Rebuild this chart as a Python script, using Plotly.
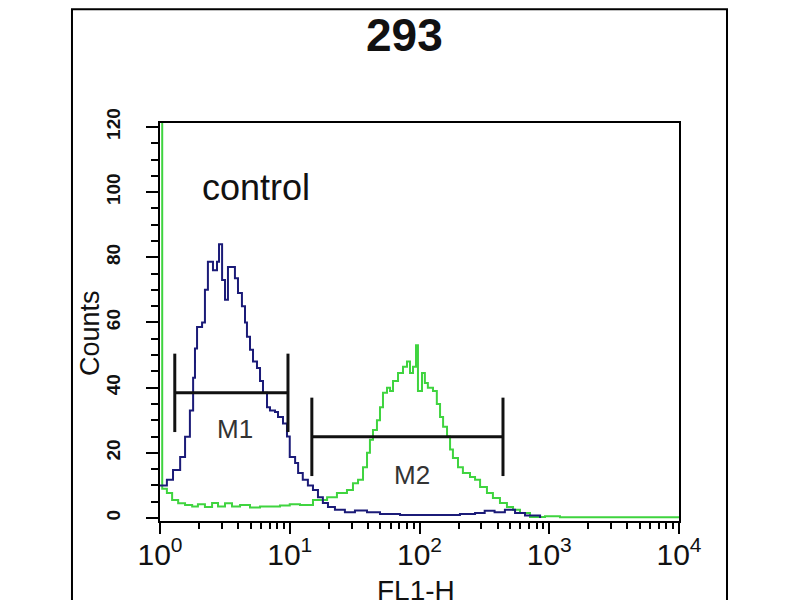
import math
import plotly.graph_objects as go

# FL1-H histogram values (intensity, counts)
control_fl1 = [1.00, 1.13, 1.26, 1.43, 1.56, 1.70, 1.80, 1.86, 1.93, 2.11, 2.22, 2.34, 2.56, 2.75, 2.85,
               3.01, 3.17, 3.34, 3.59, 3.78, 3.99, 4.28, 4.52, 4.68, 4.94, 5.21, 5.59, 5.90, 6.22, 6.68,
               7.04, 7.70, 8.12, 8.87, 9.52, 10.0, 11.0, 11.6, 12.6, 13.8, 15.1, 16.5, 18.0, 19.7, 22.3,
               26.6, 31.8, 39.4, 49.6, 70.8, 101, 144, 205, 268, 318, 379, 455, 545, 650, 850]
control_counts = [10, 11.7, 14.7, 18.7, 24.9, 33, 43, 52, 58.6, 60, 70, 78.6, 76, 78.6, 84,
                  73, 67, 77, 77, 73.6, 69, 65, 60, 55.6, 51.6, 48, 46, 42, 38.4, 34,
                  33, 32.5, 31, 29, 25, 18.7, 16.9, 13.8, 11.7, 10, 8.6, 6.4, 4.6, 3.4, 2.5,
                  1.8, 2.3, 1.8, 1.2, 0.9, 0.9, 0.9, 1.2, 1.5, 2.2, 1.8, 2.5, 1.5, 0.8, 0]

sample_fl1 = [1.00, 1.04, 1.13, 1.24, 1.38, 1.56, 1.77, 1.96, 2.22, 2.52, 2.80, 3.17, 3.59, 4.14, 4.94,
              5.90, 7.04, 8.41, 10.0, 12.0, 15.1, 19.4, 23.1, 27.6, 30.7, 33.6, 36.7, 39.4, 41.5, 43.8,
              47.0, 49.6, 52.3, 56.2, 59.3, 62.5, 68.3, 74.6, 80.1, 84.5, 89.1, 94.0, 97.3, 104.5, 110,
              116, 127, 136, 144, 152, 163, 172, 181, 198, 216, 245, 268, 293, 331, 368,
              417, 472, 526, 595, 711, 927, 1210, 2460, 10000]
sample_counts = [130, 9, 7.7, 5.5, 4.5, 4, 3.5, 4.2, 3.4, 4.6, 3.5, 4.5, 3.5, 4, 3.2,
                 3.5, 3.5, 3.8, 4.2, 4, 5.5, 6.4, 7.7, 8.6, 10.7, 11.7, 15.6, 20, 24, 27,
                 30, 34, 38.4, 40, 39, 42, 44.5, 46.4, 48, 44.5, 46.4, 53, 39, 44.5, 41.4,
                 40, 39, 35, 31, 28, 25, 21, 18.4, 15.6, 13.8, 12.6, 11.7, 9.5, 7.7, 6.1,
                 4.6, 3.4, 2.5, 1.5, 0.3, 0.5, 0.2, 0.2, 0]

# marker gates
gate_names = ['M1', 'M2']
gate_lo = [1.30, 14.8]
gate_hi = [9.69, 440]
gate_y = [38.4, 24.9]
gate_label_x = [3.79, 87.5]
gate_label_y = [27.3, 13.2]

x_ticks = [1, 10, 100, 1000, 10000]
x_ticktext = ['10<sup>0</sup>', '10<sup>1</sup>', '10<sup>2</sup>', '10<sup>3</sup>', '10<sup>4</sup>']
y_ticks = [0, 20, 40, 60, 80, 100, 120]

FONT = 'Liberation Sans'

fig = go.Figure()

fig.add_trace(go.Scatter(x=sample_fl1, y=sample_counts, mode='lines', line_shape='hv',
                         line=dict(color='#3fd43f', width=2), showlegend=False))
fig.add_trace(go.Scatter(x=control_fl1, y=control_counts, mode='lines', line_shape='hv',
                         line=dict(color='#1b1b78', width=2), showlegend=False))

# gates: horizontal bar with vertical end caps
for name, lo, hi, gy, lx, ly in zip(gate_names, gate_lo, gate_hi, gate_y, gate_label_x, gate_label_y):
    fig.add_trace(go.Scatter(x=[lo, hi], y=[gy, gy], mode='lines+markers',
                             line=dict(color='#111111', width=3),
                             marker=dict(symbol='line-ns', size=56, line=dict(color='#111111', width=3)),
                             showlegend=False))
    # annotations on a log axis take log10 positions
    fig.add_annotation(x=math.log10(lx), y=ly, xref='x', yref='y', text=name, showarrow=False,
                       xanchor='center', yanchor='middle',
                       font=dict(family=FONT, size=26, color='#333333'))

# the page body adds an 8px offset, so the margins are shifted by that much
fig.update_layout(
    width=800, height=600,
    margin=dict(l=152, r=129, t=115, b=87, autoexpand=False),
    paper_bgcolor='white', plot_bgcolor='white',
    xaxis=dict(type='log', range=[0, 4], tickvals=x_ticks, ticktext=x_ticktext,
               ticks='outside', ticklen=11, tickwidth=2, tickcolor='black',
               showline=True, linewidth=2, linecolor='black', mirror=True,
               showgrid=False, zeroline=False, automargin=False, ticklabelstandoff=-5,
               minor=dict(dtick='D1', ticks='outside', ticklen=6, tickwidth=2, tickcolor='black', showgrid=False),
               tickfont=dict(family=FONT, size=30, color='#111111')),
    yaxis=dict(range=[-0.92, 121.2], tickvals=y_ticks, tickangle=-90,
               ticks='outside', ticklen=12, tickwidth=2, tickcolor='black',
               showline=True, linewidth=2, linecolor='black', mirror=True,
               showgrid=False, zeroline=False, ticklabelstandoff=18, automargin=False,
               minor=dict(dtick=5, ticks='outside', ticklen=7, tickwidth=2, tickcolor='black', showgrid=False),
               tickfont=dict(family=FONT, size=19, color='#111111', weight='bold')),
)

# outer frame
fig.add_shape(type='rect', xref='paper', yref='paper', x0=-0.1696, x1=1.0925, y0=-0.5, y1=1.286,
              line=dict(color='black', width=2), layer='below')

fig.add_annotation(x=0.472, y=1.222, xref='paper', yref='paper', text='<b>293</b>', showarrow=False,
                   xanchor='center', yanchor='middle', font=dict(family=FONT, size=46, color='#111111'))
fig.add_annotation(x=0.185, y=0.837, xref='paper', yref='paper', text='control', showarrow=False,
                   xanchor='center', yanchor='middle', font=dict(family=FONT, size=36, color='#111111'))
fig.add_annotation(x=-0.135, y=0.472, xref='paper', yref='paper', text='Counts', showarrow=False,
                   textangle=-90, xanchor='center', yanchor='middle',
                   font=dict(family=FONT, size=27, color='#111111'))
fig.add_annotation(x=0.493, y=-0.13, xref='paper', yref='paper', text='FL1-H', showarrow=False,
                   xanchor='center', yanchor='top', font=dict(family=FONT, size=28, color='#111111'))

fig.write_html("out.html")
